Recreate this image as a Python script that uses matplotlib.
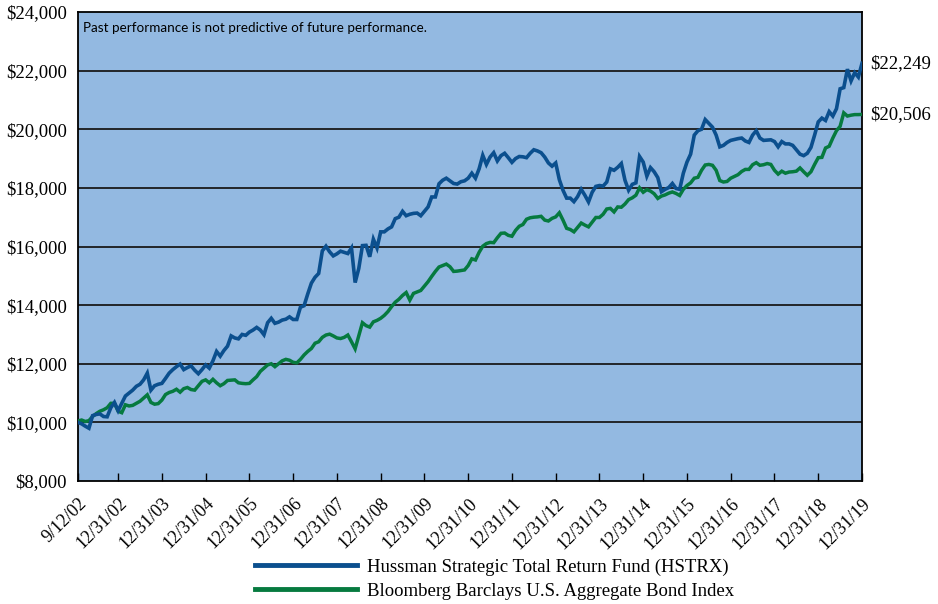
import numpy as np
import matplotlib.pyplot as plt
from matplotlib.lines import Line2D

# growth of $10,000, monthly values
hstrx = [
    10000, 9950, 9870, 9800, 10230, 10270, 10290, 10200, 10190, 10500, 10680, 10400,
    10650, 10900, 11000, 11100, 11230, 11300, 11450, 11680, 11100, 11250, 11300, 11330,
    11500, 11680, 11800, 11900, 11990, 11800, 11870, 11930, 11780, 11660, 11800, 11960,
    11850, 12100, 12420, 12260, 12450, 12600, 12950, 12880, 12850, 13000, 12970, 13080,
    13150, 13240, 13150, 12990, 13400, 13550, 13380, 13420, 13490, 13520, 13600, 13510,
    13510, 13930, 13980, 14380, 14750, 14950, 15080, 15850, 16010, 15820, 15680, 15750,
    15840, 15800, 15760, 15950, 14770, 15250, 16030, 16040, 15650, 16250, 15950, 16500,
    16500, 16600, 16670, 16950, 17000, 17200, 17050, 17100, 17130, 17140, 17050, 17200,
    17350, 17690, 17690, 18140, 18260, 18330, 18240, 18150, 18130, 18210, 18240, 18330,
    18500, 18330, 18650, 19110, 18800, 19050, 19200, 18920, 19100, 19180, 19030, 18870,
    19000, 19070, 19060, 19030, 19180, 19300, 19260, 19200, 19050, 18850, 18740, 18850,
    18280, 17920, 17650, 17650, 17530, 17700, 17950, 17750, 17520, 17850, 18050, 18080,
    18060, 18200, 18650, 18600, 18700, 18830, 18260, 17920, 18120, 18170, 19070, 18880,
    18400, 18690, 18550, 18350, 17870, 17950, 18010, 18150, 17980, 17950, 18500, 18880,
    19150, 19800, 19950, 20000, 20330, 20200, 20070, 19800, 19400, 19450, 19550, 19620,
    19650, 19680, 19700, 19600, 19550, 19800, 19950, 19700, 19620, 19630, 19640, 19580,
    19400, 19580, 19500, 19500, 19450, 19300, 19150, 19100, 19180, 19380, 19800, 20250,
    20380, 20300, 20600, 20450, 20700, 21380, 21420, 22050, 21650, 21930, 21780, 22249,
]
agg_bond = [
    10050, 10080, 10030, 10060, 10200, 10300, 10380, 10430, 10500, 10650, 10650, 10380,
    10330, 10600, 10560, 10580, 10650, 10720, 10830, 10940, 10680, 10620, 10640, 10760,
    10950, 11020, 11060, 11130, 11030, 11150, 11190, 11120, 11100, 11250, 11400, 11450,
    11350, 11470, 11350, 11250, 11320, 11430, 11440, 11450, 11350, 11330, 11320, 11330,
    11450, 11560, 11740, 11850, 11960, 12000, 11900, 12000, 12100, 12150, 12120, 12050,
    12030, 12150, 12300, 12420, 12520, 12700, 12750, 12900, 12980, 13010, 12950, 12880,
    12860, 12900, 12980, 12750, 12510, 12950, 13400, 13300, 13250, 13430, 13480, 13550,
    13650, 13780, 13950, 14100, 14200, 14330, 14430, 14170, 14400, 14450, 14500, 14650,
    14800, 14980, 15150, 15300, 15350, 15400, 15310, 15150, 15160, 15180, 15200, 15350,
    15580, 15540, 15800, 16010, 16100, 16140, 16130, 16300, 16450, 16460, 16380, 16350,
    16550, 16690, 16750, 16930, 16980, 17000, 17010, 17030, 16900, 16870, 16960, 17010,
    17150, 16900, 16620, 16580, 16500, 16650, 16800, 16730, 16670, 16830, 16990, 16990,
    17100, 17280, 17300, 17180, 17350, 17340, 17450, 17600, 17660, 17750, 18000, 17850,
    17940, 17890, 17800, 17640, 17720, 17760, 17820, 17860, 17810, 17740, 17950, 18080,
    18170, 18330, 18360, 18600, 18780, 18800, 18770, 18600, 18250, 18200, 18220, 18330,
    18390, 18450, 18560, 18630, 18630, 18790, 18860, 18770, 18790, 18830, 18800, 18600,
    18470, 18570, 18500, 18540, 18550, 18570, 18680, 18550, 18430, 18550, 18800, 19030,
    19040, 19360, 19420, 19700, 19950, 20100, 20560, 20450, 20480, 20500, 20500, 20506,
]
date_labels = ['9/12/02', '12/31/02', '12/31/03', '12/31/04', '12/31/05', '12/31/06',
               '12/31/07', '12/31/08', '12/31/09', '12/31/10', '12/31/11', '12/31/12',
               '12/31/13', '12/31/14', '12/31/15', '12/31/16', '12/31/17', '12/31/18',
               '12/31/19']
series_names = ['Hussman Strategic Total Return Fund (HSTRX)',
                'Bloomberg Barclays U.S. Aggregate Bond Index']

blue = '#0b4f8e'
green = '#067a3f'
serif = 'Liberation Serif'

x = np.arange(len(hstrx))
tick_pos = [0] + [11 + 12 * k for k in range(len(date_labels) - 1)]

fig = plt.figure(figsize=(9.38, 6.04), dpi=100)
ax = fig.add_axes([78 / 938, 123 / 604, 784 / 938, 469 / 604])
ax.set_facecolor('#93b9e1')

for v in range(10000, 24000, 2000):
    ax.axhline(v, color='#1a1a1a', lw=1.3, zorder=1)

ax.plot(x, agg_bond, color=green, lw=2.5, zorder=3, solid_joinstyle='miter')
ax.plot(x, hstrx, color=blue, lw=2.6, zorder=4, solid_joinstyle='miter')

ax.set_xlim(0, len(hstrx) - 1)
ax.set_ylim(8000, 24000)
ax.set_yticks(range(8000, 24001, 2000))
ax.set_yticklabels(['${:,}'.format(v) for v in range(8000, 24001, 2000)],
                   family=serif, fontsize=13.5)
ax.tick_params(axis='y', length=0, pad=8)
ax.set_xticks(tick_pos)
ax.set_xticklabels(date_labels, rotation=45, ha='right', va='top',
                   rotation_mode='anchor', family=serif, fontsize=13)
ax.tick_params(axis='x', direction='in', length=6, width=1, pad=10)

for s in ax.spines.values():
    s.set_linewidth(1.3)
    s.set_color('black')

ax.text(0.006, 0.966, 'Past performance is not predictive of future performance.',
        transform=ax.transAxes, family='Lato', fontsize=9.7, va='center', ha='left')

ax.annotate('${:,}'.format(hstrx[-1]), (x[-1], hstrx[-1]), xytext=(6, 0),
            textcoords='offset points', va='center', ha='left',
            family=serif, fontsize=13.5, annotation_clip=False)
ax.annotate('${:,}'.format(agg_bond[-1]), (x[-1], agg_bond[-1]), xytext=(6, 0),
            textcoords='offset points', va='center', ha='left',
            family=serif, fontsize=13.5, annotation_clip=False)

handles = [Line2D([], [], color=blue, lw=3.5), Line2D([], [], color=green, lw=3.5)]
fig.legend(handles, series_names, loc='center left', bbox_to_anchor=(246 / 938, 1 - 579 / 604),
           frameon=False, prop={'family': serif, 'size': 13.5}, handlelength=5.4,
           handletextpad=0.55, labelspacing=0.38, borderpad=0)

fig.savefig('out.png', dpi=100)
